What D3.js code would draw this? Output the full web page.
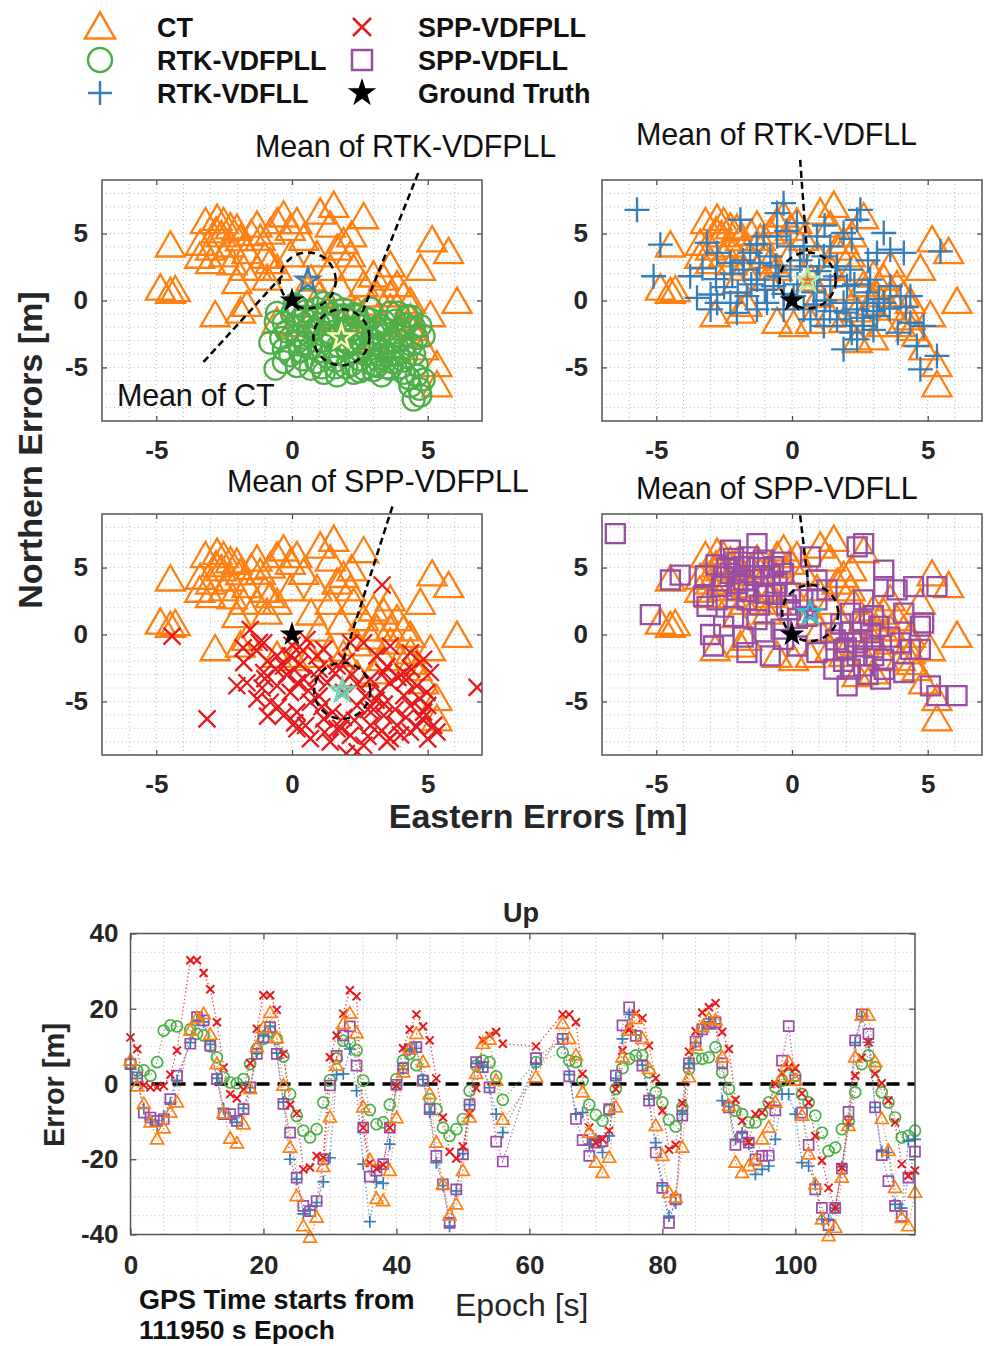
<!DOCTYPE html>
<html><head><meta charset="utf-8">
<script src="https://cdn.jsdelivr.net/npm/d3@7"></script>
<style>body{margin:0;background:#fff;} svg{display:block;}</style>
</head><body><svg id="c" width="987" height="1346"></svg>
<script>
// ---------------- DATA ----------------
// Scatter: East / North errors [m]
const ctEast = [-4.48,-4.85,-4.48,-4.3,-3.19,-3.38,-3.0,-2.76,-2.52,-2.27,-2.03,-3.0,-2.52,-2.27,-1.9,-1.66,-1.29,-1.17,-0.8,-0.55,-0.31,-0.06,0.18,0.43,1.04,1.54,1.41,2.64,1.9,1.66,2.15,-0.8,-1.29,-1.78,-2.03,-1.66,-2.83,-0.92,-0.55,-0.06,0.92,1.41,2.27,3.0,3.62,3.38,3.87,4.12,4.36,3.62,3.13,2.64,4.73,5.16,5.77,6.08,5.1,4.36,4.6,5.34,5.34,4.85,3.0,2.4,0.06,0.68,-0.55,-1.9,3.62,3.38,1.4,1.9,2.4,2.9,1.0,1.8,-2.6,-1.5,-2.8,-1.0,2.2,0.7,-3.4,-2.2,4.0,4.4];
const ctNorth = [4.04,0.82,0.57,0.7,5.78,4.17,3.8,6.03,5.78,5.4,5.28,2.8,3.3,4.04,4.5,3.55,5.53,4.54,5.0,5.78,6.28,5.28,5.78,4.54,6.5,7.0,5.53,6.15,4.3,3.8,3.3,2.8,2.3,2.3,1.3,-0.4,-1.17,1.56,2.3,3.3,3.3,2.3,2.3,1.8,2.55,1.56,1.07,0.32,-0.17,0.32,0.32,1.07,2.3,4.42,3.55,-0.17,-1.17,-1.4,-2.65,-4.9,-6.4,-3.65,-2.9,-3.1,-1.9,-1.66,-1.66,-0.9,-0.67,-1.9,-1.2,-1.6,-0.8,-0.3,0.3,0.8,4.8,4.9,5.1,3.2,4.8,1.5,3.2,2.7,-1.9,-2.2];

const rtkPllEast = [-0.8,-0.3,-0.06,0.18,0.68,1.17,1.66,2.27,2.64,3.13,3.62,4.12,4.36,4.73,4.48,4.85,4.85,4.73,4.24,3.62,3.26,-0.55,-0.3,0.18,0.55,1.17,1.9,2.4,2.88,-0.61,-0.3,0.3,0.8,1.2,1.5,2.0,2.5,3.0,3.5,4.0,0.5,1.0,2.0,2.8,3.4,4.2,3.8,1.6,0.2,2.3,3.1,4.5,1.3,0.9,2.6,3.7,4.6,1.9,2.2,3.3,0.0,-0.2,4.1,0.5,1.0,1.5,2.0,2.6,3.2,3.6,4.0,0.6,1.1,1.7,2.4,2.9,3.3,3.9,4.4,0.3,1.3,2.5,2.0,3.0,4.0,4.6,0.8,1.8,
  0.1,0.4,0.9,1.4,1.9,2.2,2.7,3.0,3.4,3.8,4.2,4.6,0.2,0.7,1.2,1.6,2.1,2.5,3.1,3.6,4.1,4.5,0.4,1.1,1.6,2.5,3.0,3.5,4.3,4.7,-0.4,-0.6,0.6,1.5,2.9,3.9,4.4];
const rtkPllNorth = [-3.15,-3.65,-4.1,-4.9,-5.1,-5.4,-5.6,-5.4,-5.1,-4.9,-5.1,-5.4,-6.4,-7.1,-7.4,-5.9,-2.65,-1.9,-1.17,-0.9,-1.9,-0.92,-1.66,-0.42,0.07,-0.17,-0.67,-1.17,-1.41,-5.1,-4.6,-1.5,-2.2,-1.3,-2.8,-2.0,-2.5,-3.0,-2.2,-3.0,-3.2,-3.8,-3.5,-4.0,-3.8,-4.2,-1.5,-4.5,-2.6,-1.0,-2.0,-2.0,-0.8,-4.6,-3.2,-4.6,-4.8,-2.9,-4.8,-5.6,-1.0,-2.3,-3.6,-0.8,-1.8,-1.0,-1.4,-1.9,-2.5,-3.2,-2.2,-2.6,-3.0,-3.4,-2.8,-3.6,-4.3,-4.0,-3.3,-3.8,-4.2,-4.4,-5.0,-4.8,-5.0,-5.6,-1.2,-2.4,
  -0.3,-1.2,-0.6,-1.8,-1.1,-2.2,-1.3,-2.4,-1.6,-2.6,-1.8,-2.8,-3.1,-3.5,-2.6,-3.9,-3.2,-3.7,-3.3,-4.1,-4.5,-4.0,-4.4,-5.0,-5.0,-5.3,-5.2,-5.0,-5.8,-6.6,-2.8,-1.6,-2.0,-0.3,-0.6,-0.9,-1.2];

const rtkFllEast = [-5.71,-4.85,-5.1,-3.75,-3.5,-3.0,-2.76,-2.03,-3.13,-2.76,-2.27,-1.9,-1.54,-1.04,-0.55,-0.31,-0.8,-0.06,-1.78,-1.29,-0.68,-0.92,-0.06,0.43,1.41,1.17,1.66,2.15,2.52,2.4,3.38,3.13,3.62,4.12,5.47,2.03,1.41,0.92,1.9,2.4,1.66,2.15,2.64,3.13,3.38,4.0,4.36,3.62,2.88,4.36,4.85,1.9,2.4,4.6,5.34,4.73,0.43,0.68,1.17,-0.31,0.06,2.76,-1.29,-2.27,-3.0,-1.66,0.55,-0.55,0.92,0.18,1.9,
  -2.5,-2.0,-1.5,-1.0,-0.5,0.2,0.8,1.2,-2.2,-1.8,-1.2,-0.6,0.3,1.0,1.6,2.3,2.8,3.2,3.6,2.0,2.6,3.0,1.4,0.9,-2.8,-3.3,-1.3,-0.2,1.2,2.2,2.8,3.0,4.2,3.9,2.2,-0.3];
const rtkFllNorth = [6.77,4.17,1.81,1.81,0.2,0.45,-0.17,-0.92,4.3,3.55,2.8,6.03,3.55,4.79,6.53,7.27,3.3,4.04,2.3,1.56,1.07,-0.17,2.3,4.04,4.04,3.3,2.55,2.3,6.77,6.03,5.04,3.55,3.8,3.55,3.67,1.07,1.07,1.56,-0.17,-0.67,-1.41,-1.9,-1.9,-1.17,-0.17,0.32,0.32,1.07,1.56,-1.66,-1.9,-3.65,-2.9,-3.4,-4.14,-5.14,-0.67,-1.41,-1.9,-0.67,0.32,-0.17,-0.67,-0.17,-0.67,0.32,2.55,4.79,4.79,5.78,5.04,
  1.0,0.6,1.2,0.8,1.8,1.2,0.6,0.0,2.0,3.0,2.8,2.6,3.0,2.2,1.8,1.2,0.6,0.1,-0.6,-0.9,-1.3,-2.2,-0.8,-0.3,1.6,2.4,4.2,5.2,5.6,4.6,3.0,-0.8,-0.5,-2.4,-2.4,0.5];

const sppPllEast = [-4.42,-3.13,3.32,6.82,-1.54,-1.04,-0.55,-0.06,-1.66,-1.04,-0.55,-0.06,0.43,0.92,0.68,0.18,1.17,1.66,2.15,2.64,2.89,2.4,2.89,2.64,3.62,4.12,4.6,5.1,4.36,4.85,5.22,3.87,3.38,3.26,1.66,1.17,2.15,3.13,4.36,4.85,-0.31,-1.29,-0.8,-0.31,0.18,0.68,1.41,2.4,3.62,4.36,5.34,-2.03,-1.78,0.55,1.9,3.38,4.12,4.97,0.3,1.0,1.3,2.2,2.7,3.6,4.2,3.0,1.0,-0.9,-1.3,0.1,1.9,4.8,5.0,3.5,2.0,
  -1.0,-0.6,-0.2,0.2,0.6,1.1,1.5,1.8,2.3,2.8,3.1,3.4,3.8,4.2,4.6,5.0,4.0,3.3,2.8,1.2,0.5,-0.5,-1.1,-0.9,0.9,1.6,2.0,3.5,4.4,4.7,2.4,3.9,-1.2,0.0,-1.8,0.4];
const sppPllNorth = [-0.12,-6.3,3.7,-3.95,0.37,-0.62,-1.6,-1.6,-3.6,-2.84,-3.83,-4.32,-3.33,-1.6,-5.06,-5.8,-6.3,-7.04,-7.53,-8.27,-6.79,-5.3,-3.33,-0.62,-0.86,-2.84,-3.83,-2.84,-5.3,-5.8,-6.79,-6.79,-6.05,-4.32,-2.35,-1.11,-0.62,-1.6,-1.36,-1.85,-2.35,-4.81,-5.06,-6.05,-7.04,-7.78,-8.02,-8.77,-7.78,-7.28,-7.28,-3.83,-2.1,-0.37,-4.32,-2.84,-4.57,-4.32,-2.2,-2.6,-3.6,-3.0,-4.6,-3.6,-3.4,-5.6,-4.6,-2.0,-1.2,-6.6,-6.2,-6.3,-5.3,-8.0,-8.9,
  -3.3,-2.6,-3.0,-3.6,-4.2,-5.4,-5.8,-7.0,-6.4,-5.6,-4.9,-5.2,-5.6,-6.2,-6.9,-7.8,-7.5,-7.2,-7.6,-7.3,-6.8,-5.4,-4.0,-6.1,-3.2,-2.9,-2.0,-2.4,-2.6,-4.8,-3.7,-3.2,-0.6,-0.8,-1.0,-1.2];

const sppFllEast = [-6.51,-5.22,-4.48,-4.12,-3.26,-3.13,-3.0,-2.89,-2.27,-2.15,-2.27,-1.78,-1.29,-1.04,-0.68,-0.31,-1.66,-2.15,-2.52,-1.66,-0.8,-0.31,0.68,0.92,1.29,2.64,2.4,3.38,3.38,3.87,4.48,5.34,4.12,4.73,4.36,4.12,5.1,5.34,6.08,3.26,2.03,1.54,0.92,0.18,2.4,2.89,2.15,2.64,1.9,3.38,1.41,0.55,-0.06,-1.04,-0.55,-2.03,-2.76,-1.29,-0.06,4.85,0.92,2.64,3.01,2.15,3.99,4.73,-1.78,-1.04,-2.52,
  -2.4,-2.0,-1.6,-1.2,-0.8,-0.4,-1.4,-2.0,-1.0,-0.6,-1.6,-2.6,-1.2,-0.2,0.4,0.2,1.8,2.2,2.6,3.0,2.4,2.0,1.6,3.2,3.6,3.4,2.8,1.9,2.6,3.0,-3.2,-2.8,-0.4,-1.0,-1.8];
const sppFllNorth = [7.53,1.48,4.07,4.44,2.84,2.1,0,-0.86,6.3,5.68,4.57,4.07,6.79,5.56,5.06,4.57,2.59,1.36,0.62,-1.36,-1.6,-0.37,5.8,4.07,3.33,6.79,6.54,4.81,3.58,3.33,3.58,3.58,1.6,0.62,-1.11,-2.84,-3.83,-4.57,-4.57,-3.33,-3.83,-2.59,-1.36,-0.86,-0.62,0.12,1.6,2.59,-1.11,-1.85,0.12,1.36,3.09,3.09,3.83,3.33,2.59,1.11,1.85,0.86,2.59,-2.35,-1.6,-2.59,-0.62,-1.11,5.06,4.32,4.32,
  5.0,5.4,5.8,5.0,4.4,5.4,4.4,3.8,3.6,3.0,3.2,3.6,2.2,2.2,2.6,1.2,0.8,0.2,-0.4,-1.0,-1.6,-1.0,-0.4,0.6,-0.2,-2.6,-3.0,-2.0,1.0,1.4,4.4,5.2,0.4,0.2,-0.2];

// Means (East, North) marked by stars and dashed circles
const meanLabels = ["Mean of CT","Mean of RTK-VDFPLL","Mean of RTK-VDFLL","Mean of SPP-VDFPLL","Mean of SPP-VDFLL"];
const meanEast  = [0.65, 1.82, 0.58, 1.85, 0.67];
const meanNorth = [1.76,-2.75, 1.50,-4.20, 1.60];

// Up errors time series
const epochs = [0,1,2,3,4,5,6,7,9,10,11,12,13,14,15,16,17,18,19,20,21,22,23,24,25,26,27,28,29,30,31,32,33,34,35,36,37,38,39,40,41,42,43,44,45,46,47,48,49,50,51,52,53,54,55,56,61,65,66,67,68,69,70,71,72,73,74,75,76,77,78,79,80,81,82,83,84,85,86,87,88,89,90,91,92,93,94,95,96,97,98,99,100,101,102,103,104,105,106,107,108,109,110,111,112,113,114,115,116,117,118];
const upCT = [6.2,-0.6,-5.3,-10.2,-14.7,-11.8,-7.6,-4.9,
 14.2,17.5,18.6,13.1,5.3,-7.8,-14.5,-15.8,-10.7,-1.3,9.8,14.9,18.9,12.2,-0.4,-16.9,-29.8,-37.8,-40.8,-35.5,-22,-8.9,4.9,16,18.7,13.5,-6.2,-20.2,-30.5,-31.1,-23.1,-9.1,3.1,9.3,13.3,5.8,-2.7,-15.6,-26.7,-34.9,-32,-23.1,-8.9,2.7,10.7,11.8,0.9,-9.5,
 1.8,
 16,12,7.6,-2.2,-12.9,-20.9,-23.6,-19.6,-6.2,7.1,14.2,17.3,12,4,-11.1,-19.1,-28.9,-30.2,-16.9,1.8,10.2,15.1,17.3,16.9,7.1,-5.8,-20.9,-23.6,-21.8,-20.4,-14.7,-11.6,-4.9,1.8,5.8,0.9,-8.4,-18.7,-26.7,-36,-40.4,-38.2,-24.9,-11.1,7.1,18.2,18.2,5.8,-9.3,-17.8,-27.6,-35.6,-37.8,-28.9];
const upRtkPll = [5.5,3.6,3.6,2.2,5.8,14.2,15.6,15.3,
 14.5,13.3,12.9,10,7.1,1.8,0.4,0.2,1.3,5.3,9.3,12,14,12,7.3,-2.7,-8.5,-12.4,-14.2,-12,-4.9,1,6.8,11.5,11,9,0.9,-6.9,-10.7,-10.2,-5.5,1.3,6.2,8,5,1,-4,-6.7,-11.6,-13.8,-12,-9.3,-1.8,4.9,6.2,5.8,2,-4.2,
 5.8,
 8.4,6.2,5.8,0.9,-5.5,-8.2,-9.8,-7,-1.3,4.2,6.7,7.6,7.6,3.1,-2.2,-4.9,-9.5,-11.3,-6.2,4,6.8,6.7,7.1,9.8,3.1,-1.3,-7.1,-8,-10.2,-10.2,-8,-4.9,-0.9,0.9,2.2,2.2,-2.7,-4.9,-8.4,-12.9,-17.8,-16.9,-12,-9.8,-2.2,5.3,7.6,4.4,-2.2,-4.9,-8.9,-14.2,-13.8,-12.4];
const upRtkFll = [5,1.5,-6.5,-9.5,-11,-8.5,-5,0.9,
 11,17,16.5,10.5,1.5,-6.5,-9,-10.2,-6.5,-1,8.2,12.8,15.3,8.2,-4.8,-20,-25.3,-34.5,-33.5,-31.5,-26,-19.6,2.5,2.7,9.3,-1.8,-21.3,-36.6,-26,-26.4,-16,-0.4,4,9,9.5,1.2,-7.5,-20.9,-27,-37.8,-28.4,-18.5,-5.5,5.5,4.5,-1,-8,-12.9,
 5.3,
 12,2.5,-8,-7.6,-16,-14.7,-18.2,-13.8,1.5,12,18.5,13,5,-4,-15.6,-27,-35.1,-31.6,-8,5.5,11,14,16.5,16,-4.4,-6,-14.7,-13,-16,-24,-22.7,-21.8,-14.7,-2.7,-2.7,-8,-20.9,-21.8,-26.7,-36,-36,-33,-22,-10.7,11,18,11.1,-6.2,-18,-18.2,-32,-33,-15.1,-14.7];
const upSppPll = [12.4,9.3,-0.3,-0.9,-0.9,-0.5,2.5,8.9,
 32.9,32.9,29.5,25.2,16.4,4.4,-2.7,-3.8,-1.5,5.5,14.7,23.6,23.6,19.7,8,-5.5,-7.8,-22.7,-22.2,-19.1,-19.5,7.1,12.9,18.7,24.9,23.3,-11.6,-21,-22.5,-21.5,-11.6,-0.4,9.5,14.5,18.5,15.3,11.6,1.5,-8.9,-18,-19.8,-16.6,-8,-1.1,11.6,12.9,13.8,10.7,
 10,
 18.5,18.5,16.4,2.7,-11.6,-15.6,-14.7,-12.4,-1.3,8.9,14.5,18.7,17.5,10.2,1.5,-7.1,-17.4,-16.2,-5.1,8.6,14,19,20.4,21.5,13.8,9.3,-4.2,-9.8,-15.4,-8,-7.6,-5.5,0,2.9,4.5,4.2,-2.5,-4.9,-13.8,-20.4,-27.6,-32.9,-22.2,-10.2,2.2,7,11.1,2.7,0.2,-4.4,-10.2,-21.3,-24.4,-23];
const upSppFll = [5.3,1.8,-7.6,-8.9,-9.8,-9.3,-4,2.2,
 10.7,17.8,16.9,10.2,1.3,-8,-8,-9.8,-6.7,-0.9,8,12.4,15.1,8,-5.3,-12.9,-24.9,-32.4,-33.8,-31.1,-20,-0.4,7.5,12.9,15.3,4.9,-11.6,-24.6,-23,-21.3,-11.6,-0.2,4.2,9.3,9.8,0.9,-6.7,-19.1,-26.7,-36.9,-28,-18.7,-5.5,5.8,4.5,-0.9,-15.3,-20.6,
 6.9,
 12,2,-9.3,-14.9,-19.1,-15.6,-15.2,-6.7,2.2,15.6,20.4,12.8,4.9,-4.4,-18.2,-27.6,-36.9,-30.7,-8.4,5.5,11.3,14.5,16,16.4,5.5,-6.2,-16.2,-14,-15.6,-20,-19.1,-19,-7,6.2,15.4,1,-7.6,-16.2,-28,-32.9,-37.5,-32.9,-22.5,-7.4,11.6,18.5,13.3,-6.2,-18.9,-25.8,-32.4,-35.1,-24.9,-18];

const scatterTicks = [-5,0,5];
const upXTicks = [0,20,40,60,80,100];
const upYTicks = [-40,-20,0,20,40];
const legendNames = ["CT","RTK-VDFPLL","RTK-VDFLL","SPP-VDFPLL","SPP-VDFLL","Ground Truth"];

// ---------------- STYLE ----------------
const FONT = '"Liberation Sans", Arial, Helvetica, sans-serif';
const TXT = '#262626';
const C = {ct:'#ff8012', rtkPll:'#4daf4a', rtkFll:'#377eb8', sppPll:'#e41a1c', sppFll:'#984ea3'};
const svg = d3.select('#c').style('font-family', FONT);

function markerPath(type, s){
  const h = s/2;
  if(type==='tri'){ const ht = s*0.87; return `M0,${-ht*0.6}L${h},${ht*0.4}L${-h},${ht*0.4}Z`; }
  if(type==='sq')  return `M${-h},${-h}H${h}V${h}H${-h}Z`;
  if(type==='plus')return `M${-h},0H${h}M0,${-h}V${h}`;
  if(type==='x')   return `M${-h},${-h}L${h},${h}M${-h},${h}L${h},${-h}`;
  if(type==='circ')return `M${h},0A${h},${h} 0 1,1 ${-h},0A${h},${h} 0 1,1 ${h},0Z`;
}
const SER = {
  ct:    {type:'tri', col:C.ct,     e:ctEast,     n:ctNorth,     up:upCT,     s:29, ts:13},
  rtkPll:{type:'circ',col:C.rtkPll, e:rtkPllEast, n:rtkPllNorth, up:upRtkPll, s:22, ts:11},
  rtkFll:{type:'plus',col:C.rtkFll, e:rtkFllEast, n:rtkFllNorth, up:upRtkFll, s:25, ts:12},
  sppPll:{type:'x',   col:C.sppPll, e:sppPllEast, n:sppPllNorth, up:upSppPll, s:17, ts:8},
  sppFll:{type:'sq',  col:C.sppFll, e:sppFllEast, n:sppFllNorth, up:upSppFll, s:19, ts:10},
};

function starPath(r){ return d3.symbol(d3.symbolStar, r*r/0.8908)(); }

// ---------------- SCATTER PANELS ----------------
const PW = 380, PH = 241;
let clipId = 0;
function panel(x0, y0, key, means, anns){
  const x = d3.scaleLinear().domain([-7,7]).range([x0, x0+PW]);
  const y = d3.scaleLinear().domain([-9,9]).range([y0+PH, y0]);
  const g = svg.append('g');
  const id = 'clip'+(clipId++);
  g.append('clipPath').attr('id', id).append('rect').attr('x',x0).attr('y',y0).attr('width',PW).attr('height',PH);
  const grid = g.append('g').attr('stroke','#b8b8b8').attr('stroke-width',1).attr('stroke-dasharray','1,3');
  grid.selectAll('.gx').data(d3.range(-6,7)).join('line')
    .attr('x1',d=>x(d)).attr('x2',d=>x(d)).attr('y1',y0).attr('y2',y0+PH);
  grid.selectAll('.gy').data(d3.range(-8,9)).join('line')
    .attr('y1',d=>y(d)).attr('y2',d=>y(d)).attr('x1',x0).attr('x2',x0+PW);
  const ax = (a)=>a.tickValues(scatterTicks).tickFormat(d=>String(d));
  g.append('g').attr('transform',`translate(0,${y0+PH})`).call(ax(d3.axisBottom(x)).tickSizeInner(-5).tickSizeOuter(0).tickPadding(20));
  g.append('g').attr('transform',`translate(0,${y0})`).call(ax(d3.axisTop(x)).tickSizeInner(-5).tickSizeOuter(0).tickFormat(''));
  g.append('g').attr('transform',`translate(${x0},0)`).call(ax(d3.axisLeft(y)).tickSizeInner(-5).tickSizeOuter(0).tickPadding(14));
  g.append('g').attr('transform',`translate(${x0+PW},0)`).call(ax(d3.axisRight(y)).tickSizeInner(-5).tickSizeOuter(0).tickFormat(''));
  g.selectAll('.domain').remove();
  g.selectAll('.tick line').attr('stroke','#444').attr('stroke-width',1.2);
  g.selectAll('.tick text').attr('font-size',26).attr('font-weight','bold').attr('fill',TXT).attr('font-family',FONT);
  const pts = g.append('g').attr('clip-path',`url(#${id})`);
  ['ct', key].forEach(k=>{
    const S = SER[k];
    pts.append('g').selectAll('path').data(S.e.map((e,i)=>[e,S.n[i]])).join('path')
      .attr('d', markerPath(S.type, S.s))
      .attr('transform', d=>`translate(${x(d[0])},${y(d[1])})`)
      .attr('fill','none').attr('stroke',S.col).attr('stroke-width',2.3);
  });
  pts.append('path').attr('d',starPath(13)).attr('transform',`translate(${x(0)},${y(0)})`).attr('fill','#000');
  means.forEach(m=>{
    const cx = x(meanEast[m.i]), cy = y(meanNorth[m.i]);
    pts.append('path').attr('d',starPath(12)).attr('transform',`translate(${cx},${cy})`)
      .attr('fill','none').attr('stroke',m.outer).attr('stroke-width',2.5);
    pts.append('path').attr('d',starPath(5)).attr('transform',`translate(${cx},${cy})`)
      .attr('fill','none').attr('stroke',m.inner).attr('stroke-width',1.5);
    g.append('circle').attr('cx',cx).attr('cy',cy).attr('r',28)
      .attr('fill','none').attr('stroke','#000').attr('stroke-width',2.5).attr('stroke-dasharray','7,5');
  });
  g.append('rect').attr('x',x0).attr('y',y0).attr('width',PW).attr('height',PH)
    .attr('fill','none').attr('stroke','#555').attr('stroke-width',1.5);
  anns.forEach(a=>{
    g.append('line').attr('x1',x(a.l[0])).attr('y1',y(a.l[1])).attr('x2',x(a.l[2])).attr('y2',y(a.l[3]))
      .attr('stroke','#000').attr('stroke-width',2.5).attr('stroke-dasharray','7,4');
    svg.append('text').attr('x',a.tx).attr('y',a.ty).text(meanLabels[a.i])
      .attr('font-size',30.5).attr('fill','#111').attr('letter-spacing','-0.2');
  });
}

panel(102,180,'rtkPll',
  [{i:2,outer:C.rtkFll,inner:C.ct},{i:1,outer:'#fffbb0',inner:C.rtkPll}],
  [{i:1,tx:255,ty:157,l:[4.65,9.52,2.59,-0.89]},{i:0,tx:117,ty:406,l:[-3.26,-4.59,-0.32,1.93]}]);
panel(602,180,'rtkFll',
  [{i:2,outer:'#b8eca0',inner:C.ct}],
  [{i:2,tx:636,ty:145,l:[0.3,10.5,0.55,3.65]}]);
panel(102,514,'sppPll',
  [{i:3,outer:'#6fd3b3',inner:'#6fd3b3'}],
  [{i:3,tx:227,ty:492,l:[3.7,9.56,1.84,-2.22]}]);
panel(602,514,'sppFll',
  [{i:4,outer:'#35c0c8',inner:C.sppFll}],
  [{i:4,tx:636,ty:499,l:[0.3,8.9,0.61,3.56]}]);

svg.append('text').attr('x',538).attr('y',828).attr('text-anchor','middle')
  .attr('font-size',34).attr('font-weight','bold').attr('fill',TXT).text('Eastern Errors [m]');
svg.append('text').attr('transform','translate(42,450) rotate(-90)').attr('text-anchor','middle')
  .attr('font-size',34).attr('font-weight','bold').attr('fill',TXT).text('Northern Errors [m]');

// ---------------- LEGEND ----------------
const legKeys = ['ct','rtkPll','rtkFll','sppPll','sppFll','gt'];
legKeys.forEach((k,i)=>{
  const col = Math.floor(i/3), row = i%3;
  const mx = col? 362:100, tx = col? 418:157, cy = 27 + row*33;
  if(k==='gt'){
    svg.append('path').attr('d',starPath(15)).attr('transform',`translate(${mx},${cy})`).attr('fill','#000');
  } else {
    const S = SER[k];
    const sz = k==='ct'?30:(k==='sppPll'?18:(k==='sppFll'?20:24));
    svg.append('path').attr('d',markerPath(S.type,sz)).attr('transform',`translate(${mx},${cy+(k==='ct'?1:0)})`)
      .attr('fill','none').attr('stroke',S.col).attr('stroke-width',2.5);
  }
  svg.append('text').attr('x',tx).attr('y',cy+10).text(legendNames[i])
    .attr('font-size',27).attr('font-weight','bold').attr('fill','#111');
});

// ---------------- UP TIME SERIES ----------------
const UX0=130.5, UX1=915, UY0=933.5, UY1=1234.5;
const xs = d3.scaleLinear().domain([0,118]).range([UX0,UX1]);
const ys = d3.scaleLinear().domain([-40,40]).range([UY1,UY0]);
const ug = svg.append('g');
const ugrid = ug.append('g').attr('stroke','#b8b8b8').attr('stroke-width',1).attr('stroke-dasharray','1,3');
ugrid.selectAll('.vx').data(d3.range(5,118,5)).join('line')
  .attr('x1',d=>xs(d)).attr('x2',d=>xs(d)).attr('y1',UY0).attr('y2',UY1);
ugrid.selectAll('.hy').data(d3.range(-35,40,5)).join('line')
  .attr('y1',d=>ys(d)).attr('y2',d=>ys(d)).attr('x1',UX0).attr('x2',UX1);
ug.append('g').attr('transform',`translate(0,${UY1})`).call(d3.axisBottom(xs).tickValues(upXTicks).tickFormat(d=>String(d)).tickSizeInner(-6).tickSizeOuter(0).tickPadding(21));
ug.append('g').attr('transform',`translate(0,${UY0})`).call(d3.axisTop(xs).tickValues(upXTicks).tickFormat('').tickSizeInner(-6).tickSizeOuter(0));
ug.append('g').attr('transform',`translate(${UX0},0)`).call(d3.axisLeft(ys).tickValues(upYTicks).tickFormat(d=>String(d)).tickSizeInner(-6).tickSizeOuter(0).tickPadding(12));
ug.append('g').attr('transform',`translate(${UX1},0)`).call(d3.axisRight(ys).tickValues(upYTicks).tickFormat('').tickSizeInner(-6).tickSizeOuter(0));
ug.selectAll('.domain').remove();
ug.selectAll('.tick line').attr('stroke','#444').attr('stroke-width',1.2);
ug.selectAll('.tick text').attr('font-size',26).attr('font-weight','bold').attr('fill',TXT).attr('font-family',FONT);

ug.append('line').attr('x1',xs(0)).attr('x2',xs(118)).attr('y1',ys(0)).attr('y2',ys(0))
  .attr('stroke','#000').attr('stroke-width',3.5).attr('stroke-dasharray','13,8');

const order = ['rtkPll','rtkFll','sppFll','sppPll','ct'];
const lineGen = d3.line().x(d=>xs(d[0])).y(d=>ys(d[1]));
order.forEach(k=>{
  const S = SER[k];
  const data = epochs.map((t,i)=>[t,S.up[i]]).filter(d=>d[1]!=null && !isNaN(d[1]));
  ug.append('path').attr('d',lineGen(data)).attr('fill','none').attr('stroke',S.col)
    .attr('stroke-width',1.3).attr('stroke-dasharray','1.2,2.6').attr('opacity',0.9);
});
order.forEach(k=>{
  const S = SER[k];
  const data = epochs.map((t,i)=>[t,S.up[i]]).filter(d=>d[1]!=null && !isNaN(d[1]));
  ug.append('g').selectAll('path').data(data).join('path')
    .attr('d',markerPath(S.type,S.ts)).attr('transform',d=>`translate(${xs(d[0])},${ys(d[1])})`)
    .attr('fill','none').attr('stroke',S.col).attr('stroke-width',k==='sppPll'?2:1.7);
});
ug.append('rect').attr('x',UX0).attr('y',UY0).attr('width',UX1-UX0).attr('height',UY1-UY0)
  .attr('fill','none').attr('stroke','#555').attr('stroke-width',1.5);

svg.append('text').attr('x',521).attr('y',922).attr('text-anchor','middle')
  .attr('font-size',27).attr('font-weight','bold').attr('fill',TXT).text('Up');
svg.append('text').attr('transform','translate(64,1085) rotate(-90)').attr('text-anchor','middle')
  .attr('font-size',29).attr('font-weight','bold').attr('fill',TXT).text('Error [m]');
svg.append('text').attr('x',455).attr('y',1316).attr('font-size',32).attr('fill',TXT).text('Epoch [s]');
svg.append('text').attr('x',139).attr('y',1309).attr('font-size',27).attr('font-weight','bold').attr('fill','#111').text('GPS Time starts from');
svg.append('text').attr('x',139).attr('y',1339).attr('font-size',26.5).attr('font-weight','bold').attr('fill','#111').text('111950 s Epoch');
</script></body></html>
